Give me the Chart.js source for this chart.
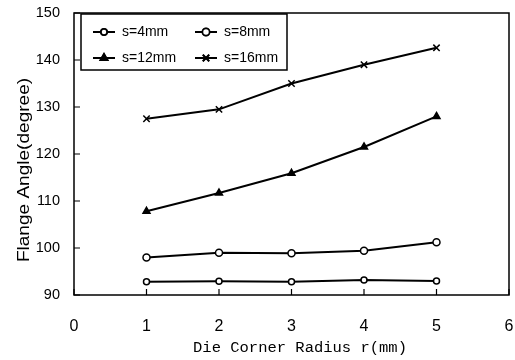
<!DOCTYPE html>
<html>
<head>
<meta charset="utf-8">
<script src="https://cdn.jsdelivr.net/npm/chart.js@4"></script>
<style>
  html, body { margin: 0; padding: 0; background: #fff; overflow: hidden; }
  #wrap { width: 515px; height: 360px; }
  canvas { display: block; }
</style>
</head>
<body>
<div id="wrap"><canvas id="flange_chart"></canvas></div>
<script>
const radius_mm = [1, 2, 3, 4, 5]
const s4_values = [92.8, 92.9, 92.8, 93.2, 93.0]
const s8_values = [98.0, 99.0, 98.9, 99.4, 101.2]
const s12_values = [107.8, 111.7, 115.9, 121.5, 128.0]
const s16_values = [127.5, 129.5, 135.0, 139.0, 142.6]
const series_names = ['s=4mm', 's=8mm', 's=12mm', 's=16mm']
const x_ticks = [0, 1, 2, 3, 4, 5, 6]
const y_ticks = [90, 100, 110, 120, 130, 140, 150]
const x_title = 'Die Corner Radius r(mm)'
const y_title = 'Flange Angle(degree)'

const toPoints = vals => vals.map((v, i) => ({ x: radius_mm[i], y: v }))

const base = {
    borderColor: '#000',
    borderWidth: 2,
    pointBorderColor: '#000',
    pointBorderWidth: 1.5,
    tension: 0
}

// frame, inward ticks, axis titles and the legend inside the plot
const framePlugin = {
    id: 'frame',
    afterDraw(chart) {
        const { ctx, chartArea: a, scales } = chart
        ctx.save()
        ctx.strokeStyle = '#000'
        ctx.lineWidth = 1.5
        ctx.strokeRect(a.left, a.top, a.right - a.left, a.bottom - a.top)
        ctx.lineWidth = 1.2
        ctx.beginPath()
        x_ticks.forEach(t => {
            const x = scales.x.getPixelForValue(t)
            ctx.moveTo(x, a.bottom)
            ctx.lineTo(x, a.bottom - 6)
        })
        y_ticks.forEach(t => {
            const y = scales.y.getPixelForValue(t)
            ctx.moveTo(a.left, y)
            ctx.lineTo(a.left + 6, y)
        })
        ctx.stroke()

        // axis titles
        ctx.fillStyle = '#000'
        ctx.textAlign = 'center'
        ctx.textBaseline = 'middle'
        ctx.font = '15.5px "Liberation Mono", "DejaVu Sans Mono", monospace'
        ctx.fillText(x_title, 300, 348)
        ctx.save()
        ctx.translate(25, 170)
        ctx.rotate(-Math.PI / 2)
        ctx.scale(1.19, 1)
        ctx.font = '16px "Liberation Sans", Arial, sans-serif'
        ctx.fillText(y_title, 0, 0)
        ctx.restore()

        // legend box
        const bx = 81, by = 14, bw = 206, bh = 56
        ctx.textAlign = 'left'
        ctx.fillStyle = '#fff'
        ctx.fillRect(bx, by, bw, bh)
        ctx.lineWidth = 1.5
        ctx.strokeRect(bx, by, bw, bh)
        ctx.font = '14px "Liberation Sans", Arial, sans-serif'
        chart.data.datasets.forEach((ds, i) => {
            const col = i % 2, row = Math.floor(i / 2)
            const lx = bx + 12 + col * 102
            const ly = by + 18 + row * 26
            ctx.strokeStyle = '#000'
            ctx.lineWidth = 2
            ctx.beginPath()
            ctx.moveTo(lx, ly)
            ctx.lineTo(lx + 22, ly)
            ctx.stroke()
            Chart.helpers.drawPoint(ctx, {
                pointStyle: ds.pointStyle,
                radius: ds.pointRadius,
                borderWidth: ds.pointBorderWidth,
                rotation: 0
            }, lx + 11, ly)
            ctx.fillStyle = ds.pointBackgroundColor
            ctx.strokeStyle = '#000'
            ctx.lineWidth = ds.pointBorderWidth
            ctx.fill()
            ctx.stroke()
            ctx.fillStyle = '#000'
            ctx.fillText(ds.label, lx + 29, ly)
        })
        ctx.restore()
    }
}

new Chart(document.querySelector('#flange_chart'), {
    type: 'line',
    data: {
        datasets: [
            { ...base, label: series_names[0], data: toPoints(s4_values), pointStyle: 'circle', pointRadius: 3, pointBackgroundColor: '#fff' },
            { ...base, label: series_names[1], data: toPoints(s8_values), pointStyle: 'circle', pointRadius: 3.5, pointBackgroundColor: '#fff' },
            { ...base, label: series_names[2], data: toPoints(s12_values), pointStyle: 'triangle', pointRadius: 4, pointBackgroundColor: '#000' },
            { ...base, label: series_names[3], data: toPoints(s16_values), pointStyle: 'crossRot', pointRadius: 4.5, pointBackgroundColor: '#000' }
        ]
    },
    options: {
        responsive: true,
        maintainAspectRatio: false,
        animation: false,
        layout: { padding: { top: 13, right: 3, left: 0, bottom: 0 } },
        plugins: {
            legend: { display: false },
            tooltip: { enabled: false }
        },
        scales: {
            x: {
                type: 'linear',
                min: 0,
                max: 6,
                afterFit: s => {
                    s.height = 65
                    s.paddingLeft = 0
                    s.paddingRight = 0
                },
                afterBuildTicks: s => { s.ticks = x_ticks.map(v => ({ value: v })) },
                grid: { display: false, drawTicks: false },
                border: { display: false },
                ticks: {
                    padding: 22,
                    color: '#000',
                    font: { size: 16, family: '"Liberation Sans", Arial, sans-serif' }
                }
            },
            y: {
                min: 90,
                max: 150,
                afterFit: s => {
                    s.width = 74
                    s.paddingTop = 0
                    s.paddingBottom = 0
                },
                afterBuildTicks: s => { s.ticks = y_ticks.map(v => ({ value: v })) },
                grid: { display: false, drawTicks: false },
                border: { display: false },
                ticks: {
                    padding: 14,
                    color: '#000',
                    font: { size: 14.5, family: '"Liberation Sans", Arial, sans-serif' }
                }
            }
        }
    },
    plugins: [framePlugin]
})
</script>
</body>
</html>
